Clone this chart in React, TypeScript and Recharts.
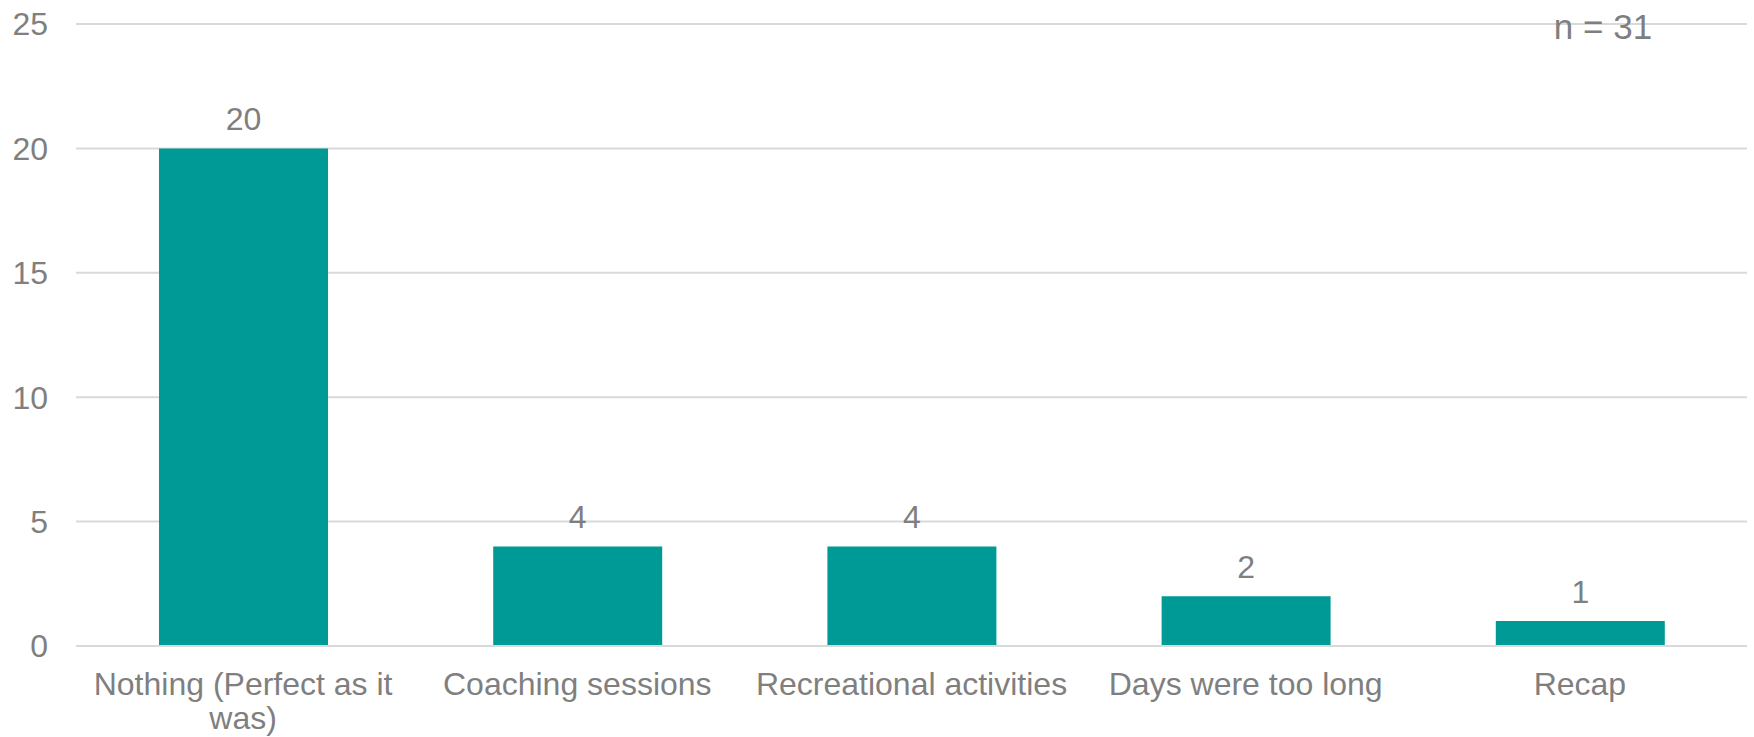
import React from 'react';
import { BarChart, Bar, XAxis, YAxis, CartesianGrid, LabelList } from 'recharts';

const categories = [
  'Nothing (Perfect as it was)',
  'Coaching sessions',
  'Recreational activities',
  'Days were too long',
  'Recap',
];
const counts = [20, 4, 4, 2, 1];
const yTicks = [0, 5, 10, 15, 20, 25];
const sampleNote = 'n = 31';

const FONT = '"Liberation Sans", Arial, sans-serif';
const GREY = '#7f7f7f';
const TEAL = '#009a96';
const GRID = '#d9d9d9';

const data = categories.map((name, i) => ({ name, count: counts[i] }));

// split a label into lines that fit the category band
const wrapLabel = (label: string, maxWidth: number): string[] => {
  const ctx = document.createElement('canvas').getContext('2d');
  if (!ctx) return [label];
  ctx.font = `32px ${FONT}`;
  const lines: string[] = [];
  let line = '';
  label.split(' ').forEach((word) => {
    const test = line ? `${line} ${word}` : word;
    if (line && ctx.measureText(test).width > maxWidth) {
      lines.push(line);
      line = word;
    } else {
      line = test;
    }
  });
  if (line) lines.push(line);
  return lines;
};

const CategoryTick = (props: any) => {
  const { x, y, payload } = props;
  const lines = wrapLabel(String(payload.value), 320);
  return (
    <text x={x} y={y + 49} textAnchor="middle" fill={GREY} fontSize={32} fontFamily={FONT}>
      {lines.map((l, i) => (
        <tspan key={i} x={x} dy={i === 0 ? 0 : 34}>
          {l}
        </tspan>
      ))}
    </text>
  );
};

const App: React.FC = () => {
  return (
    <div style={{ position: 'relative', width: 1754, height: 737, fontFamily: FONT }}>
      <style>{'body{margin:0;}'}</style>
      <BarChart
        width={1754}
        height={737}
        data={data}
        margin={{ top: 24, right: 7, left: 0, bottom: 0 }}
      >
        <CartesianGrid vertical={false} stroke={GRID} strokeWidth={2} />
        <XAxis
          dataKey="name"
          height={91}
          tickLine={false}
          tickSize={0}
          tickMargin={0}
          axisLine={{ stroke: GRID, strokeWidth: 2 }}
          interval={0}
          tick={<CategoryTick />}
        />
        <YAxis
          width={76}
          domain={[0, 25]}
          ticks={yTicks}
          axisLine={false}
          tickLine={false}
          tickSize={0}
          tickMargin={28}
          tick={{ fill: GREY, fontSize: 32, fontFamily: FONT }}
        />
        <Bar dataKey="count" fill={TEAL} barSize={169} isAnimationActive={false}>
          <LabelList
            dataKey="count"
            position="top"
            offset={18}
            fill={GREY}
            fontSize={32}
            fontFamily={FONT}
          />
        </Bar>
      </BarChart>
      <svg
        width={1754}
        height={737}
        style={{ position: 'absolute', left: 0, top: 0, pointerEvents: 'none' }}
      >
        <text x={1603} y={39} textAnchor="middle" fill={GREY} fontSize={35} fontFamily={FONT}>
          {sampleNote}
        </text>
      </svg>
    </div>
  );
};

export default App;
